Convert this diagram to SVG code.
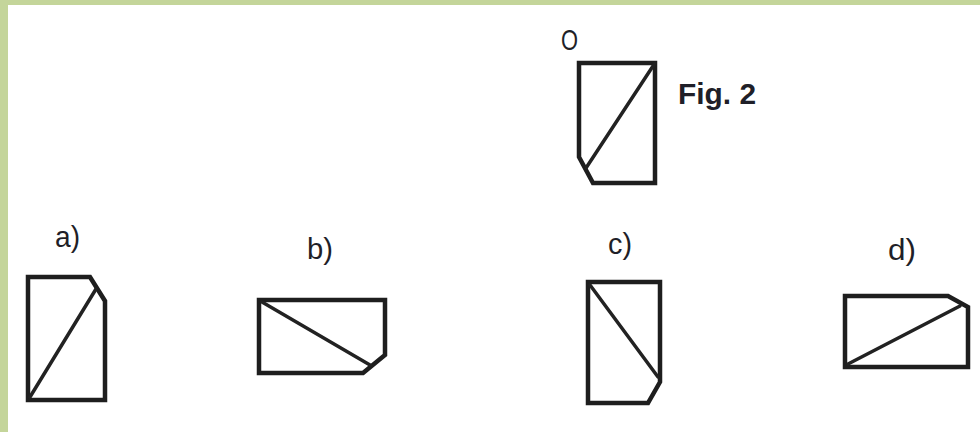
<svg xmlns="http://www.w3.org/2000/svg" width="980" height="432" viewBox="0 0 980 432">
<style>
.o{fill:none;stroke:#1e1e1e;stroke-width:4.5;stroke-linejoin:miter}
.d{fill:none;stroke:#222;stroke-width:3.5;stroke-linecap:round}
.t{font-family:"Liberation Sans",Arial,sans-serif;fill:#1f1f28;font-size:29px}
.b{font-weight:bold;font-size:30px}
</style>
<rect x="0" y="0" width="980" height="432" fill="#ffffff"/>
<rect x="0" y="0" width="980" height="5" fill="#c4d59a"/>
<rect x="0" y="0" width="8" height="432" fill="#c4d59a"/>
<g id="fig2">
<text class="t" x="561" y="50" textLength="17" lengthAdjust="spacingAndGlyphs">O</text>
<path class="o" d="M579,63 H655 V183 H593 L579,157 Z"/>
<line class="d" x1="655" y1="63" x2="586" y2="168"/>
<text class="t b" x="678" y="104" textLength="78" lengthAdjust="spacingAndGlyphs">Fig. 2</text>
</g>
<g id="opt-a">
<text class="t" x="55" y="247" textLength="25" lengthAdjust="spacingAndGlyphs">a)</text>
<path class="o" d="M28,277 H90 L105,301 V400 H28 Z"/>
<line class="d" x1="30" y1="397" x2="96" y2="289"/>
</g>
<g id="opt-b">
<text class="t" x="307" y="259" textLength="26" lengthAdjust="spacingAndGlyphs">b)</text>
<path class="o" d="M259,300 H385 V355 L363,373 H259 Z"/>
<line class="d" x1="262" y1="302" x2="370" y2="365"/>
</g>
<g id="opt-c">
<text class="t" x="608" y="254" textLength="24" lengthAdjust="spacingAndGlyphs">c)</text>
<path class="o" d="M588,282 H660 V382 L648,403 H588 Z"/>
<line class="d" x1="590" y1="285" x2="658" y2="377"/>
</g>
<g id="opt-d">
<text class="t" x="888" y="260" textLength="28" lengthAdjust="spacingAndGlyphs">d)</text>
<path class="o" d="M845,296 H948 L968,307 V367 H845 Z"/>
<line class="d" x1="848" y1="364" x2="960" y2="306"/>
</g>
</svg>
